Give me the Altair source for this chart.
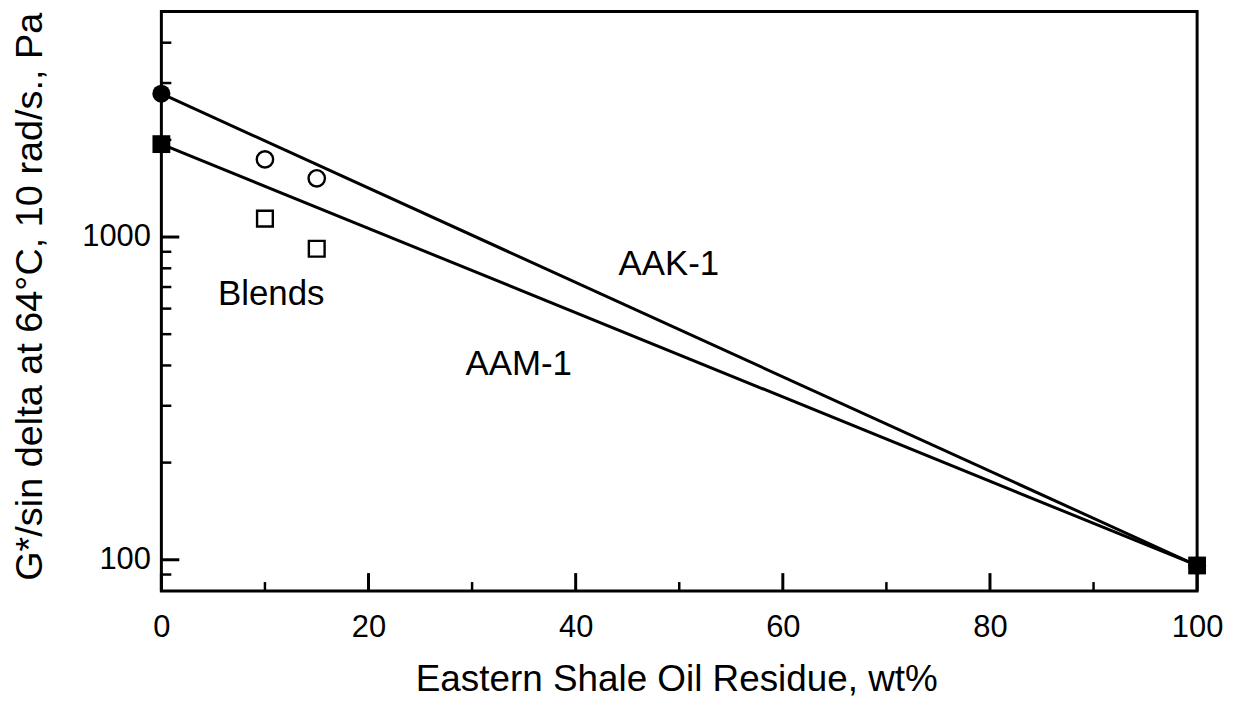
import altair as alt
import pandas as pd

# ---- data ----
x_ends = [0, 100]
aak1_ends = [2780, 96]
aam1_ends = [1940, 96]
blend_x = [10, 15]
blend_aak1 = [1740, 1520]
blend_aam1 = [1140, 920]

label_text = ["AAK-1", "AAM-1", "Blends"]
label_x = [49.0, 34.5, 10.6]
label_y = [825, 405, 667]

x_major = [0, 20, 40, 60, 80, 100]
x_minor = [10, 30, 50, 70, 90]
y_major = [100, 1000]
y_minor = [90, 200, 300, 400, 500, 600, 700, 800, 900, 2000, 3000, 4000]

W, H = 1040, 582
FONT = "Liberation Sans"

lines_df = pd.DataFrame({
    "x": x_ends * 2,
    "y": aak1_ends + aam1_ends,
    "s": ["AAK-1"] * 2 + ["AAM-1"] * 2,
})
aak_end_df = pd.DataFrame({"x": x_ends, "y": aak1_ends})
aam_end_df = pd.DataFrame({"x": x_ends, "y": aam1_ends})
blend_k_df = pd.DataFrame({"x": blend_x, "y": blend_aak1})
blend_m_df = pd.DataFrame({"x": blend_x, "y": blend_aam1})
labels_df = pd.DataFrame({"t": label_text, "x": label_x, "y": label_y})
xmaj_df = pd.DataFrame({"v": x_major})
xmin_df = pd.DataFrame({"v": x_minor})
ymaj_df = pd.DataFrame({"v": y_major})
ymin_df = pd.DataFrame({"v": y_minor})

xscale = alt.Scale(domain=[0, 100], nice=False, zero=False)
yscale = alt.Scale(type="log", domain=[80, 5000], nice=False)

x_axis = alt.Axis(
    values=x_major, ticks=False, tickSize=0, domain=False, grid=False,
    labelFlush=False, labelOverlap=False,
    labelFontSize=31, labelPadding=22, labelFont=FONT, labelColor="black",
    title="Eastern Shale Oil Residue, wt%", titleFont=FONT, titleFontSize=37,
    titleFontWeight="normal", titleColor="black", titleX=517, titleY=100,
    titleBaseline="alphabetic",
)
y_axis = alt.Axis(
    values=y_major, format="d", ticks=False, tickSize=0, domain=False, grid=False,
    labelFlush=False, labelOverlap=False,
    labelFontSize=31, labelPadding=11, labelFont=FONT, labelColor="black",
    title="G*/sin delta at 64°C, 10 rad/s., Pa", titleFont=FONT, titleFontSize=38,
    titleFontWeight="normal", titleColor="black", titleX=-120, titleY=286,
    titleBaseline="alphabetic",
)

X = lambda f="x": alt.X(f"{f}:Q", scale=xscale, axis=x_axis)
Y = lambda f="y": alt.Y(f"{f}:Q", scale=yscale, axis=y_axis)

lines = alt.Chart(lines_df).mark_line(color="black", strokeWidth=3).encode(
    x=X(), y=Y(), detail="s:N"
)
aak_pts = alt.Chart(aak_end_df).mark_point(
    shape="circle", filled=True, color="black", size=330, opacity=1
).encode(x=X(), y=Y())
aam_pts = alt.Chart(aam_end_df).mark_point(
    shape="square", filled=True, color="black", size=320, opacity=1
).encode(x=X(), y=Y())
bk = alt.Chart(blend_k_df).mark_point(
    shape="circle", filled=False, color="black", size=270, strokeWidth=2.4, opacity=1
).encode(x=X(), y=Y())
bm = alt.Chart(blend_m_df).mark_point(
    shape="square", filled=False, color="black", size=250, strokeWidth=2.4, opacity=1
).encode(x=X(), y=Y())
labels = alt.Chart(labels_df).mark_text(
    font=FONT, fontSize=35, color="black", align="center", baseline="middle"
).encode(x=X(), y=Y(), text="t:N")

xmaj = alt.Chart(xmaj_df).mark_rule(color="black", strokeWidth=3).encode(
    x=X("v"), y=alt.value(H), y2=alt.value(H - 18)
)
xmin = alt.Chart(xmin_df).mark_rule(color="black", strokeWidth=2.5).encode(
    x=X("v"), y=alt.value(H), y2=alt.value(H - 9)
)
ymaj = alt.Chart(ymaj_df).mark_rule(color="black", strokeWidth=3).encode(
    y=Y("v"), x=alt.value(0), x2=alt.value(18)
)
ymin = alt.Chart(ymin_df).mark_rule(color="black", strokeWidth=2.5).encode(
    y=Y("v"), x=alt.value(0), x2=alt.value(10)
)

chart = alt.layer(
    xmaj, xmin, ymaj, ymin, lines, bk, bm, aak_pts, aam_pts, labels
).properties(
    width=W, height=H,
    padding={"left": 154, "top": 2, "right": 30, "bottom": 116},
    autosize=alt.AutoSizeParams(type="none"),
    background="white",
).configure_view(
    stroke="black", strokeWidth=3
)

chart.save("out.html", embed_options={"renderer": "svg", "actions": False})
